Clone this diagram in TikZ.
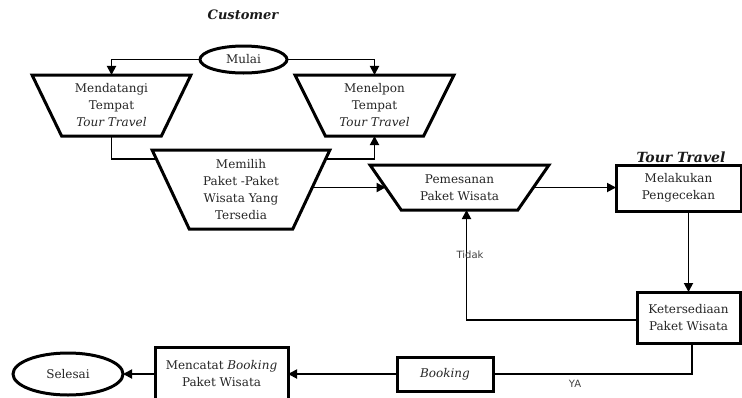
\documentclass[tikz,border=0pt]{standalone}
\usepackage{fontspec}
\setmainfont{DejaVu Serif}
\setsansfont{DejaVu Sans}
\usetikzlibrary{shapes.geometric,arrows.meta}
\begin{document}
\begin{tikzpicture}[x=1pt,y=-1pt,
  txt/.style={font=\fontsize{12}{17}\selectfont, text=black!85, align=center},
  shp/.style={draw, line width=3pt, fill=white, inner sep=0pt, outer sep=0pt, txt},
  trap/.style={shp, trapezium, trapezium stretches=true},
  box/.style={shp, rectangle},
  oval/.style={shp, ellipse},
  arr/.style={line width=1.8pt, -{Triangle[length=9pt,width=9pt]}},
  ln/.style={line width=1.8pt},
  lbl/.style={font=\sffamily\fontsize{10}{12}\selectfont, text=black!75},
  ttl/.style={font=\fontsize{13}{15}\selectfont\bfseries\itshape, text=black!90}]
\useasboundingbox (0,0) rectangle (742,397);

\node[ttl] (cust) at (243,15) {Customer};
\node[oval, minimum width=87pt, minimum height=27pt] (mulai) at (243.5,59.5) {Mulai};

\node[trap, minimum width=159pt, minimum height=61pt,
  trapezium left angle=116.6, trapezium right angle=116.6] (lt) at (111.5,105.5)
  {Mendatangi\\Tempat\\\textit{Tour Travel}};
\node[trap, minimum width=159pt, minimum height=61pt,
  trapezium left angle=116.6, trapezium right angle=116.6] (rt) at (374.5,105.5)
  {Menelpon\\Tempat\\\textit{Tour Travel}};

\draw[arr] (mulai.west) -| (lt.north);
\draw[arr] (mulai.east) -| (rt.north);
\draw[arr] (lt.south) -- ++(0,23) -| (rt.south);

\node[trap, minimum width=178pt, minimum height=79pt,
  trapezium left angle=114.2, trapezium right angle=114.2] (mp) at (241,189.5)
  {Memilih\\Paket -Paket\\Wisata Yang\\Tersedia};

\node[trap, minimum width=179pt, minimum height=45pt,
  trapezium left angle=129.1, trapezium right angle=129.1] (ps) at (459.5,187.5)
  {Pemesanan\\Paket Wisata};

\draw[arr] (mp.east |- ps.west) -- (ps.west);

\node[box, minimum width=125pt, minimum height=46pt] (mk) at (678.5,188)
  {Melakukan\\Pengecekan};
\node[ttl, font=\fontsize{14}{16}\selectfont\bfseries\itshape, anchor=base] (tt) at (681,162) {Tour Travel};

\draw[arr] (ps.east) -- (ps.east -| mk.west);

\node[box, minimum width=103pt, minimum height=51pt] (ks) at (688.5,317.5)
  {Ketersediaan\\Paket Wisata};
\draw[arr] (mk.south -| ks.north) -- (ks.north);

\draw[arr] ([yshift=-2.5pt]ks.west) -| ([xshift=7pt]ps.south);
\node[lbl] (tidak) at (470,255) {Tidak};

\node[box, minimum width=96pt, minimum height=34pt] (bk) at (445,374) {\textit{Booking}};
\draw[ln] ([xshift=3.5pt]ks.south) |- (bk.east);
\node[lbl] (ya) at (575,384) {YA};

\node[box, minimum width=133pt, minimum height=54pt] (mc) at (221.5,374)
  {Mencatat \textit{Booking}\\Paket Wisata};
\draw[arr] (bk.west) -- (bk.west -| mc.east);

\node[oval, minimum width=110pt, minimum height=42pt] (sel) at (68,374) {Selesai};
\draw[arr] (mc.west |- sel.east) -- (sel.east);
\end{tikzpicture}
\end{document}
